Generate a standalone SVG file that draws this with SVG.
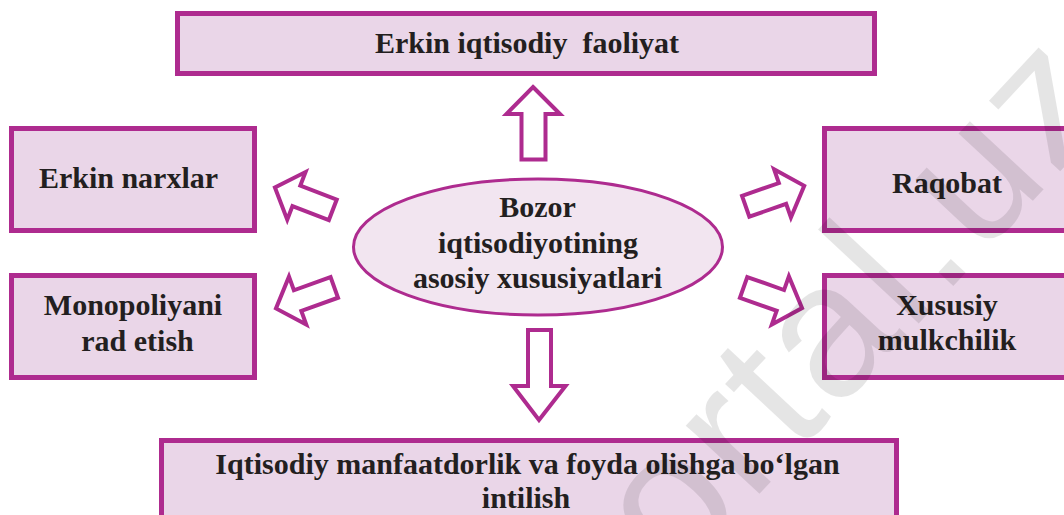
<svg xmlns="http://www.w3.org/2000/svg" width="1064" height="515" viewBox="0 0 1064 515">
  <style>
    .box { fill: #ead6e8; stroke: #ae2b8f; stroke-width: 5; }
    .ell { fill: #f2e5f0; stroke: #ae2b8f; stroke-width: 3; }
    .arr { fill: #ffffff; stroke: #ae2b8f; stroke-width: 4; stroke-linejoin: miter; stroke-miterlimit: 10; }
    .t { font-family: "Liberation Serif", "Times New Roman", serif; font-weight: bold; font-size: 30px; fill: #231f20; text-anchor: middle; white-space: pre; }
    .wm { font-family: "Liberation Sans", Arial, sans-serif; font-size: 190px; letter-spacing: 4px; fill: #000000; fill-opacity: 0.1; }
  </style>
  <defs>
    <path id="sarrow" d="M0,-11 L39,-11 L39,-25.5 L62,0 L39,25.5 L39,11 L0,11 Z"/>
  </defs>
  <rect width="1064" height="515" fill="#ffffff"/>

  <g id="connectors">
    <polygon class="arr" points="533,87 560,114 545.5,114 545.5,159.5 521.5,159.5 521.5,114 506.5,114"/>
    <polygon class="arr" points="528,330 551,330 551,386 565.5,386 539,420 513,386 528,386"/>
    <use href="#sarrow" class="arr" transform="translate(745.7,206.3) rotate(-19.3)"/>
    <use href="#sarrow" class="arr" transform="translate(743.6,287.4) rotate(19.5)"/>
    <use href="#sarrow" class="arr" transform="translate(332.8,209.8) rotate(201)"/>
    <use href="#sarrow" class="arr" transform="translate(334.3,287.4) rotate(160.2)"/>
  </g>

  <g id="node-top">
    <rect class="box" x="177.5" y="13.5" width="697" height="60"/>
    <text class="t" x="527" y="53">Erkin iqtisodiy  faoliyat</text>
  </g>

  <g id="node-erkin-narxlar">
    <rect class="box" x="11.5" y="128.5" width="243" height="102"/>
    <text class="t" x="128.5" y="188">Erkin narxlar</text>
  </g>

  <g id="node-monopoliya">
    <rect class="box" x="11.5" y="275.5" width="243" height="102"/>
    <text class="t" x="133" y="315">Monopoliyani</text>
    <text class="t" x="137.5" y="351">rad etish</text>
  </g>

  <g id="node-raqobat">
    <rect class="box" x="824.5" y="128.5" width="300" height="102"/>
    <text class="t" x="947" y="193">Raqobat</text>
  </g>

  <g id="node-xususiy">
    <rect class="box" x="824.5" y="275.5" width="300" height="102"/>
    <text class="t" x="947" y="315">Xususiy</text>
    <text class="t" x="947" y="350">mulkchilik</text>
  </g>

  <g id="node-bottom">
    <rect class="box" x="161.5" y="440.5" width="735" height="100"/>
    <text class="t" x="527.5" y="474">Iqtisodiy manfaatdorlik va foyda olishga bo‘lgan</text>
    <text class="t" x="526" y="508">intilish</text>
  </g>

  <g id="node-center">
    <ellipse class="ell" cx="538" cy="247" rx="184.5" ry="68"/>
    <text class="t" x="537.5" y="217">Bozor</text>
    <text class="t" x="538" y="253">iqtisodiyotining</text>
    <text class="t" x="537.5" y="288">asosiy xususiyatlari</text>
  </g>

  <g id="watermark">
    <text class="wm" transform="translate(601,664) rotate(-47)">portal.uz</text>
  </g>
</svg>
